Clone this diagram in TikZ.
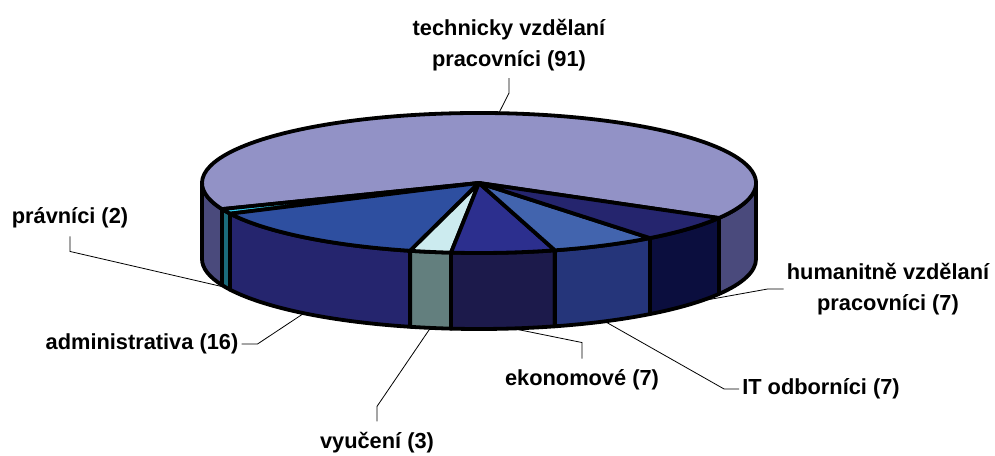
\documentclass[tikz,border=0pt]{standalone}
\usepackage{fontspec}
\setmainfont{Liberation Sans}
\definecolor{techtop}{RGB}{146,146,198}
\definecolor{techside}{RGB}{74,74,124}
\definecolor{pravtop}{RGB}{51,204,240}
\definecolor{pravside}{RGB}{27,107,123}
\definecolor{admintop}{RGB}{46,79,160}
\definecolor{adminside}{RGB}{37,37,110}
\definecolor{vyuctop}{RGB}{204,235,239}
\definecolor{vyucside}{RGB}{99,127,126}
\definecolor{ekontop}{RGB}{44,47,142}
\definecolor{ekonside}{RGB}{28,26,75}
\definecolor{ittop}{RGB}{66,100,174}
\definecolor{itside}{RGB}{37,53,122}
\definecolor{humtop}{RGB}{37,37,110}
\definecolor{humside}{RGB}{11,14,62}
\tikzset{
    slice/.style={draw=black,line width=3.8pt,line join=round},
    popis/.style={font=\bfseries\fontsize{21.8}{31}\selectfont,align=center,inner sep=3pt},
    vodic/.style={draw=black,line width=0.8pt}
}
\begin{document}
\begin{tikzpicture}[x=1pt,y=1pt]
\useasboundingbox (0,0) rectangle (995,455);
\coordinate (c) at (479,272);
\coordinate (d) at (479,196);

\foreach \a/\b/\col in {180/201.9/techside,201.9/206/pravside,206/255.6/adminside,255.6/264.2/vyucside,264.2/285.9/ekonside,285.9/308.1/itside,308.1/330/humside,330/360/techside}
{
    \filldraw[slice,fill=\col] (d) ++(\a:277 and 70) arc[start angle=\a,end angle=\b,x radius=277,y radius=70] -- ++(0,76) arc[start angle=\b,end angle=\a,x radius=277,y radius=70] -- cycle;
}

\foreach \a/\b/\col in {330/561.9/techtop,201.9/206/pravtop,206/255.6/admintop,255.6/264.2/vyuctop,264.2/285.9/ekontop,285.9/308.1/ittop,308.1/330/humtop}
{
    \filldraw[slice,fill=\col] (c) -- ++(\a:277 and 70) arc[start angle=\a,end angle=\b,x radius=277,y radius=70] -- cycle;
}

\path (c) ++(85.9:277 and 70) coordinate (p-tech);
\foreach \m/\n in {204/prav,230.8/admin,259.9/vyuc,277/ekon,297/it,323/hum}
{
    \path (d) ++(\m:277 and 70) coordinate (p-\n);
}

\node[popis] (tech) at (509,410) {technicky vzdělaní\\pracovníci (91)};
\node[popis] (prav) at (70,237) {právníci (2)};
\node[popis] (admin) at (142,111) {administrativa (16)};
\node[popis] (vyuc) at (377,12) {vyučení (3)};
\node[popis] (ekon) at (582,75) {ekonomové (7)};
\node[popis] (it) at (821,66) {IT odborníci (7)};
\node[popis] (hum) at (888,166) {humanitně vzdělaní\\pracovníci (7)};

\draw[vodic] ([yshift=-4pt]tech.south) -- ++(0,-15) -- (p-tech);
\draw[vodic] ([yshift=-5pt]prav.south) -- ++(0,-15) -- (p-prav);
\draw[vodic] (admin.east) -- ++(16,0) -- (p-admin);
\draw[vodic] ([yshift=8pt]vyuc.north) -- ++(0,15) -- (p-vyuc);
\draw[vodic] ([yshift=8pt]ekon.north) -- ++(0,16) -- (p-ekon);
\draw[vodic] (it.west) -- ++(-15,0) -- (p-it);
\draw[vodic] (hum.west) -- ++(-16,0) -- (p-hum);

\end{tikzpicture}
\end{document}
